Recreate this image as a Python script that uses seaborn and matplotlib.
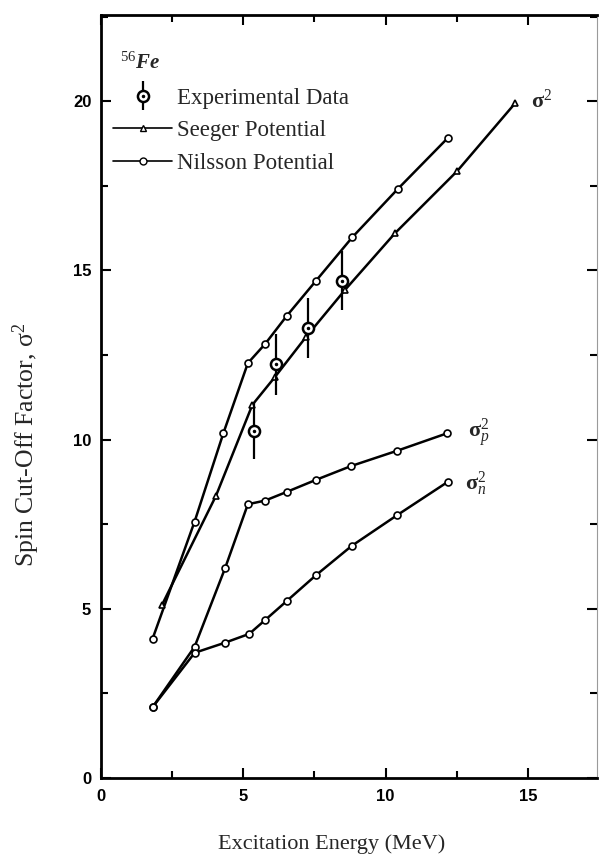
import matplotlib
matplotlib.use("Agg")
import matplotlib.pyplot as plt
import seaborn as sns
from matplotlib.container import ErrorbarContainer
from matplotlib.lines import Line2D
from matplotlib.legend_handler import HandlerTuple, HandlerErrorbar
from matplotlib.ticker import MultipleLocator

# Spin cut-off factor of 56Fe versus excitation energy (MeV)
nilsson_e = [1.81, 3.29, 4.30, 5.16, 5.77, 6.53, 7.56, 8.83, 10.42, 12.18]
nilsson_total = [4.11, 7.58, 10.19, 12.26, 12.83, 13.66, 14.70, 15.98, 17.40, 18.91]

seeger_e = [2.14, 4.04, 5.32, 6.12, 7.20, 8.58, 10.33, 12.52, 14.55]
seeger_total = [5.11, 8.34, 11.03, 11.86, 13.03, 14.43, 16.10, 17.94, 19.94]

proton_e = [1.81, 3.29, 4.36, 5.16, 5.77, 6.54, 7.55, 8.79, 10.40, 12.17]
proton_val = [2.09, 3.88, 6.20, 8.09, 8.20, 8.46, 8.81, 9.22, 9.67, 10.19]

neutron_e = [1.81, 3.29, 4.36, 5.21, 5.77, 6.54, 7.55, 8.81, 10.41, 12.20]
neutron_val = [2.09, 3.70, 4.00, 4.26, 4.67, 5.24, 5.99, 6.86, 7.77, 8.76]

exp_e = [5.39, 6.16, 7.29, 8.46]
exp_val = [10.26, 12.23, 13.30, 14.70]
exp_err = [0.84, 0.90, 0.90, 0.88]

legend_labels = ["Experimental Data", "Seeger Potential", "Nilsson Potential"]

sns.set_theme(style="ticks")
plt.rcParams.update({
    "font.family": ["Liberation Serif", "DejaVu Serif"],
    "mathtext.fontset": "custom",
    "mathtext.rm": "Liberation Serif",
    "mathtext.it": "Liberation Serif:italic",
    "mathtext.bf": "Liberation Serif:bold",
    "mathtext.bfit": "Liberation Serif:italic:bold",
    "axes.edgecolor": "black",
    "xtick.color": "black",
    "ytick.color": "black",
})

fig = plt.figure(figsize=(5.99, 8.56), dpi=100)
ax = fig.add_axes([101 / 599, 78 / 856, 496 / 599, 763 / 856])

line_kw = dict(color="black", linewidth=1.8, markersize=5,
               markerfacecolor="white", markeredgecolor="black",
               markeredgewidth=1.2, estimator=None, sort=False,
               legend=False, ax=ax)

sns.lineplot(x=nilsson_e, y=nilsson_total, marker="o", **line_kw)
sns.lineplot(x=seeger_e, y=seeger_total, marker="^", **line_kw)
sns.lineplot(x=proton_e, y=proton_val, marker="o", **line_kw)
sns.lineplot(x=neutron_e, y=neutron_val, marker="o", **line_kw)

eb = ax.errorbar(exp_e, exp_val, yerr=exp_err, fmt="o", ms=8,
                 mfc="white", mec="black", mew=1.8, ecolor="black",
                 elinewidth=1.6, capsize=0, zorder=5)
dots, = ax.plot(exp_e, exp_val, ".", ms=3, color="black", zorder=6)

# Curve labels
ax.text(15.10, 20.0, r"$\mathbf{\sigma}^2$", fontsize=16, ha="left", va="center")
ax.text(12.88, 10.2, r"$\mathbf{\sigma}_p^2$", fontsize=16, ha="left", va="center")
ax.text(12.80, 8.69, r"$\mathbf{\sigma}_n^2$", fontsize=16, ha="left", va="center")
ax.text(0.038, 0.937, r"$^{56}\mathbfit{Fe}$", transform=ax.transAxes,
        fontsize=15, ha="left", va="center")

seeger_h = Line2D([], [], color="black", lw=1.2, marker="^", ms=4,
                  mfc="white", mec="black", mew=1.0)
nilsson_h = Line2D([], [], color="black", lw=1.2, marker="o", ms=5,
                   mfc="white", mec="black", mew=1.0)
ax.legend(handles=[(eb, dots), seeger_h, nilsson_h], labels=legend_labels,
          handler_map={tuple: HandlerTuple(ndivide=1, pad=0),
                       ErrorbarContainer: HandlerErrorbar(yerr_size=0.62)},
          loc="upper left", bbox_to_anchor=(0.024, 0.905), frameon=False,
          fontsize=16.5, handlelength=2.6, handletextpad=0.2,
          labelspacing=0.5, borderpad=0, borderaxespad=0)

ax.set_xlim(0, 17.43)
ax.set_ylim(0, 22.55)
for axis in (ax.xaxis, ax.yaxis):
    axis.set_major_locator(MultipleLocator(5))
    axis.set_minor_locator(MultipleLocator(2.5))
ax.tick_params(which="both", direction="in", top=True, right=True,
               width=1.5, colors="black")
ax.tick_params(which="major", length=7)
ax.tick_params(which="minor", length=5)
ax.tick_params(axis="x", pad=8)
ax.tick_params(axis="y", pad=7)
for lbl in ax.get_xticklabels() + ax.get_yticklabels():
    lbl.set_fontfamily("Liberation Sans")
    lbl.set_fontweight("bold")
    lbl.set_fontsize(12)

for side in ("left", "bottom", "top"):
    ax.spines[side].set_linewidth(2.0)
    ax.spines[side].set_color("black")
ax.spines["right"].set_linewidth(0.8)
ax.spines["right"].set_color("#9a9a9a")

ax.set_xlabel("Excitation Energy (MeV)", fontsize=16, va="center")
ax.xaxis.set_label_coords(0.464, -0.087)
ax.set_ylabel("Spin Cut-Off Factor, σ$^2$", fontsize=18.5, va="center")
ax.yaxis.set_label_coords(-0.151, 0.437)

fig.savefig("out.png", dpi=100, facecolor="white")
